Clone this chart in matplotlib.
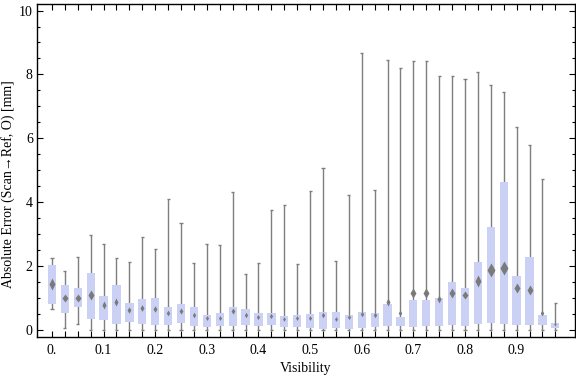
import matplotlib
matplotlib.use('Agg')
import matplotlib.pyplot as plt
import numpy as np

# ----------
# Data
# ----------
visibility = [0.000, 0.025, 0.050, 0.075, 0.100, 0.125, 0.150, 0.175,
              0.200, 0.225, 0.250, 0.275, 0.300, 0.325, 0.350, 0.375,
              0.400, 0.425, 0.450, 0.475, 0.500, 0.525, 0.550, 0.575,
              0.600, 0.625, 0.650, 0.675, 0.700, 0.725, 0.750, 0.775,
              0.800, 0.825, 0.850, 0.875, 0.900, 0.925, 0.950, 0.975]

whisk_lo = [0.65, 0.07, 0.18, 0.00, 0.00, 0.00, 0.00, 0.00,
            0.00, 0.00, 0.00, 0.00, 0.00, 0.00, 0.00, 0.00,
            0.00, 0.00, 0.00, 0.00, 0.00, 0.00, 0.00, 0.00,
            0.00, 0.00, 0.00, 0.00, 0.00, 0.00, 0.00, 0.00,
            0.00, 0.00, 0.00, 0.00, 0.00, 0.00, 0.00, 0.00]

q1 = [0.82, 0.54, 0.73, 0.34, 0.30, 0.20, 0.26, 0.19,
      0.17, 0.17, 0.21, 0.14, 0.10, 0.14, 0.14, 0.17,
      0.14, 0.17, 0.10, 0.10, 0.07, 0.04, 0.07, 0.04,
      0.07, 0.10, 0.14, 0.14, 0.10, 0.14, 0.14, 0.17,
      0.14, 0.20, 0.21, 0.19, 0.17, 0.17, 0.15, 0.07]

center = [1.45, 0.99, 1.01, 1.10, 0.78, 0.87, 0.63, 0.68,
          0.65, 0.52, 0.60, 0.48, 0.39, 0.39, 0.60, 0.46,
          0.41, 0.44, 0.33, 0.37, 0.39, 0.48, 0.36, 0.41,
          0.49, 0.48, 0.89, 0.52, 1.17, 1.17, 0.96, 1.15,
          1.09, 1.54, 1.87, 1.93, 1.33, 1.26, 0.52, 0.19]

q3 = [2.04, 1.41, 1.31, 1.78, 1.08, 1.41, 0.85, 0.96,
      1.00, 0.72, 0.82, 0.72, 0.48, 0.53, 0.72, 0.66,
      0.53, 0.53, 0.44, 0.48, 0.51, 0.56, 0.56, 0.48,
      0.56, 0.53, 0.82, 0.41, 0.94, 0.94, 1.01, 1.50,
      1.32, 2.13, 3.23, 4.62, 1.69, 2.30, 0.47, 0.23]

whisk_hi = [2.24, 1.85, 2.27, 2.97, 2.70, 2.26, 2.12, 2.90,
            2.54, 4.10, 3.34, 2.09, 2.69, 2.65, 4.32, 1.75,
            2.09, 3.75, 3.91, 2.06, 4.35, 5.07, 2.15, 4.22,
            8.67, 4.38, 8.45, 8.20, 8.43, 8.42, 7.95, 7.95,
            7.86, 8.09, 7.67, 7.46, 6.35, 5.79, 4.72, 0.84]

x_ticklabels = ["0.", "0.1", "0.2", "0.3", "0.4", "0.5", "0.6", "0.7", "0.8", "0.9"]
y_ticklabels = ["0", "2", "4", "6", "8", "10"]

# ----------
# Style
# ----------
plt.rcParams['font.family'] = ['Liberation Serif', 'DejaVu Serif']
box_color = '#cad1f4'
line_color = '#7f7f7f'
box_w = 0.016
cap_w = 0.003

fig = plt.figure(figsize=(5.76, 3.77), dpi=100)
ax = fig.add_axes([0.0642, 0.106, 0.934, 0.883])

x = np.array(visibility)
lo, hi = np.array(whisk_lo), np.array(whisk_hi)
b1, b3 = np.array(q1), np.array(q3)
c = np.array(center)

# whiskers + caps
ax.vlines(x, lo, hi, colors=line_color, lw=1.0, zorder=1)
ax.hlines(hi, x - cap_w, x + cap_w, colors=line_color, lw=1.0, zorder=1)
ax.hlines(lo, x - cap_w, x + cap_w, colors=line_color, lw=1.0, zorder=1)

# boxes
ax.bar(x, b3 - b1, bottom=b1, width=box_w, color=box_color, lw=0, zorder=2)

# centre markers, a bit bigger for bigger values
for xi, ci in zip(x, c):
    ms = (2.0 + 4.0 * ci) / 1.39
    ax.plot(xi, ci, marker='d', ms=ms, color='#7a7a7a', mec='none', zorder=3)

ax.set_xlim(-0.029, 1.013)
ax.set_ylim(-0.22, 10.2)

ax.set_xticks(np.arange(0, 10) / 10)
ax.set_xticklabels(x_ticklabels)
ax.set_xticks(x, minor=True)
ax.set_yticks(np.arange(0, 11, 2))
ax.set_yticklabels(y_ticklabels)
ax.set_yticks(np.arange(0, 10.01, 0.5), minor=True)

ax.tick_params(which='both', direction='in', top=True, right=True,
               labelsize=10, width=0.8)
ax.tick_params(axis='x', which='both', length=4, pad=5)
ax.tick_params(axis='y', which='major', length=4, pad=3)
ax.tick_params(axis='y', which='minor', length=2.2)
for s in ax.spines.values():
    s.set_linewidth(1.0)

ax.set_xlabel("Visibility", fontsize=10)
ax.set_ylabel("Absolute Error (Scan\u2192Ref, O) [mm]", fontsize=10)
ax.xaxis.set_label_coords(0.5, -0.075)
ax.yaxis.set_label_coords(-0.041, 0.46)

plt.savefig("out.png", dpi=100)
plt.close()
